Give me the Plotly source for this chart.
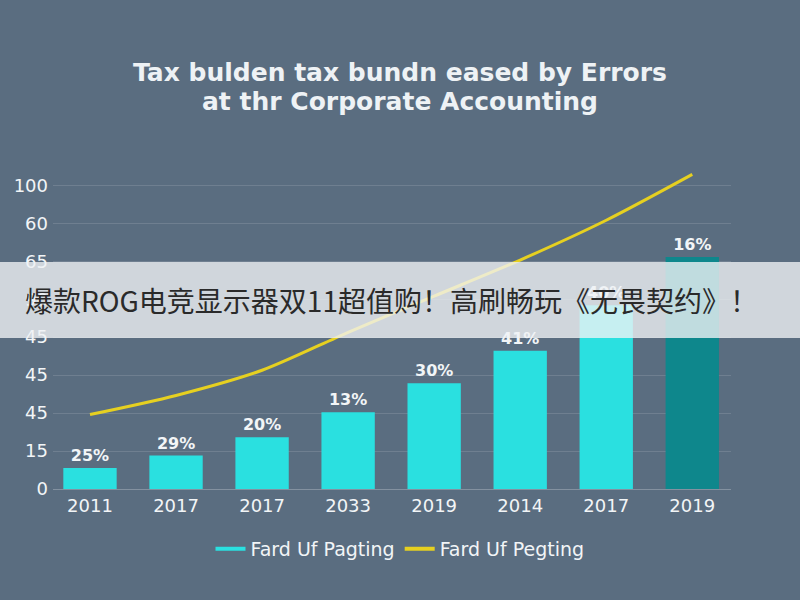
import plotly.graph_objects as go

# ---- data ----
x_labels = ["2011", "2017", "2017", "2033", "2019", "2014", "2017", "2019"]
bar_values = [6.9, 11.0, 17.0, 25.3, 34.8, 45.5, 60.5, 76.4]
bar_text = ["25%", "29%", "20%", "13%", "30%", "41%", "40%", "16%"]
line_values = [24.5, 30.8, 39.1, 51.6, 63.5, 75.4, 88.5, 103.6]
y_tickvals = [0, 12.5, 25, 37.5, 50, 62.5, 75, 87.5, 100]
y_ticktext = ["0", "15", "45", "45", "45", "90", "65", "60", "100"]
series_names = ["Fard Uf Pagting", "Fard Uf Pegting"]
title_lines = ["Tax bulden tax bundn eased by Errors", "at thr Corporate Accounting"]
banner_text = "爆款ROG电竞显示器双11超值购！高刷畅玩《无畏契约》！"

BG = "#5a6d80"
CYAN = "#2ae0e0"
TEAL = "#0e878c"
YELLOW = "#e6d020"

# plot-area geometry (pixels) used to place paper-referenced overlays
PL, PR, PT, PB = 53, 731, 161, 489
PH = PB - PT
PW = PR - PL

def px_y(py):
    return (PB - py) / PH

def px_x(px):
    return (px - PL) / PW

xs = list(range(len(x_labels)))
bar_colors = [CYAN] * (len(xs) - 1) + [TEAL]

fig = go.Figure()
fig.add_trace(go.Bar(
    x=xs, y=bar_values, marker=dict(color=bar_colors, line=dict(width=0)),
    width=0.62, text=["<b>" + t + "</b>" for t in bar_text], textposition="outside",
    textfont=dict(family="DejaVu Sans", size=16, color="#f2f5f7"),
    cliponaxis=False, showlegend=False, name=series_names[0],
))
fig.add_trace(go.Scatter(
    x=xs, y=line_values, mode="lines",
    line=dict(color=YELLOW, width=3, shape="spline", smoothing=0.8),
    showlegend=False, name=series_names[1],
))
# legend entries (line swatches)
fig.add_trace(go.Scatter(x=[None], y=[None], mode="lines",
                         line=dict(color=CYAN, width=4), name=series_names[0]))
fig.add_trace(go.Scatter(x=[None], y=[None], mode="lines",
                         line=dict(color=YELLOW, width=4), name=series_names[1]))

annotations = []
for text, py in zip(title_lines, [72, 101]):
    annotations.append(dict(text="<b>" + text + "</b>", xref="paper", yref="paper",
                            x=px_x(400), y=px_y(py), xanchor="center", yanchor="middle",
                            showarrow=False,
                            font=dict(family="DejaVu Sans", size=25, color="#eef2f5")))
annotations.append(dict(text=banner_text, xref="paper", yref="paper",
                        x=px_x(391), y=px_y(300),
                        xanchor="center", yanchor="middle", showarrow=False,
                        font=dict(family="Noto Sans CJK SC", size=28, color="#2a2a2a")))

fig.update_layout(
    width=800, height=600,
    paper_bgcolor=BG, plot_bgcolor=BG,
    margin=dict(l=PL, r=800 - PR, t=PT, b=600 - PB),
    font=dict(family="DejaVu Sans", color="#f2f5f7"),
    legend=dict(orientation="h", x=px_x(400), xanchor="center", y=px_y(549), yanchor="middle",
                font=dict(size=19, color="#f2f5f7"), bgcolor="rgba(0,0,0,0)",
                itemwidth=30),
    xaxis=dict(range=[-0.43, 7.45], tickvals=xs, ticktext=x_labels,
               tickfont=dict(size=18, color="#f2f5f7"), showgrid=False,
               showline=True, linecolor="rgba(255,255,255,0.25)", zeroline=False,
               ticks=""),
    yaxis=dict(range=[0, 108], tickvals=y_tickvals, ticktext=y_ticktext,
               tickfont=dict(size=18, color="#f2f5f7"),
               gridcolor="rgba(255,255,255,0.13)", gridwidth=1, zeroline=False,
               ticklabelstandoff=4),
    shapes=[dict(type="rect", xref="paper", yref="paper", layer="above",
                 x0=px_x(0), x1=px_x(800), y0=px_y(338), y1=px_y(262),
                 fillcolor="rgba(240,242,245,0.79)", line=dict(width=0))],
    annotations=annotations,
)

fig.write_html("out.html", config={"displayModeBar": False},
               post_script="document.body.style.margin='0';")
